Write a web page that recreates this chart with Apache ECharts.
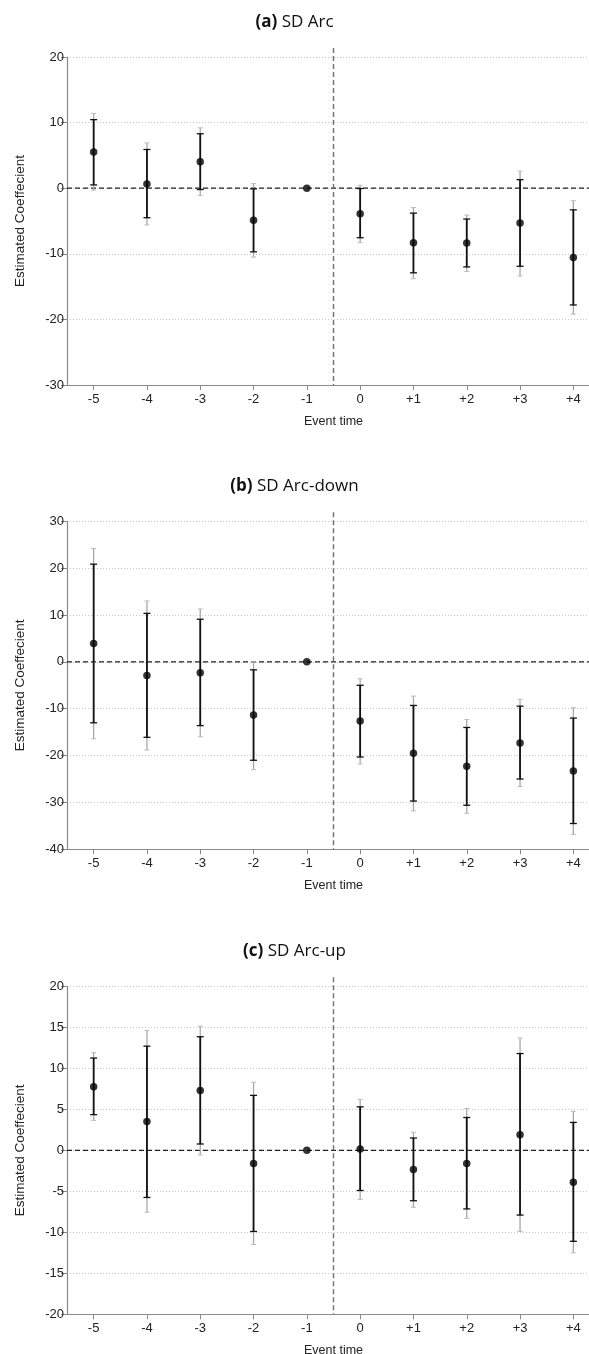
<!DOCTYPE html>
<html>
<head>
<meta charset="utf-8">
<script src="https://cdn.jsdelivr.net/npm/echarts@6/dist/echarts.min.js"></script>
<style>
html,body{margin:0;padding:0;background:#fff;}
#chart{width:589px;height:1354px;}
</style>
</head>
<body>
<div id="chart"></div>
<script>
// ---------- data ----------
const categories = ['-5','-4','-3','-2','-1','0','+1','+2','+3','+4'];

const aPoint   = [5.5, 0.65, 4.05, -4.9, 0, -3.9, -8.3, -8.35, -5.3, -10.55];
const aInnerHi = [10.45, 5.9, 8.3, -0.1, null, -0.05, -3.8, -4.7, 1.3, -3.3];
const aInnerLo = [0.5, -4.5, -0.2, -9.7, null, -7.55, -12.9, -12.0, -11.9, -17.8];
const aOuterHi = [11.4, 6.9, 9.2, 0.7, null, 0.45, -2.95, -4.1, 2.6, -1.9];
const aOuterLo = [-0.3, -5.6, -1.1, -10.5, null, -8.3, -13.8, -12.7, -13.4, -19.2];

const bPoint   = [3.9, -2.9, -2.3, -11.35, 0, -12.6, -19.5, -22.3, -17.3, -23.3];
const bInnerHi = [20.85, 10.35, 9.1, -1.7, null, -5.0, -9.3, -14.0, -9.45, -12.0];
const bInnerLo = [-13.0, -16.1, -13.6, -21.0, null, -20.3, -29.7, -30.6, -25.0, -34.5];
const bOuterHi = [24.2, 13.0, 11.3, 0, null, -3.6, -7.3, -12.3, -8.0, -9.8];
const bOuterLo = [-16.4, -18.8, -16.0, -23.0, null, -21.8, -31.8, -32.3, -26.6, -36.8];

const cPoint   = [7.75, 3.5, 7.3, -1.6, 0, 0.15, -2.35, -1.6, 1.9, -3.9];
const cInnerHi = [11.25, 12.7, 13.85, 6.7, null, 5.3, 1.5, 4.0, 11.8, 3.4];
const cInnerLo = [4.35, -5.75, 0.77, -9.9, null, -4.9, -6.15, -7.15, -7.9, -11.1];
const cOuterHi = [11.9, 14.6, 15.15, 8.3, null, 6.2, 2.2, 5.1, 13.7, 4.75];
const cOuterLo = [3.65, -7.55, -0.57, -11.5, null, -6.0, -6.95, -8.3, -9.9, -12.5];

const panelTitles = ['(a)', '(b)', '(c)'];
const panelNames = ['SD Arc', 'SD Arc-down', 'SD Arc-up'];
const yMins = [-30, -40, -20];
const yMaxs = [20, 30, 20];
const yIntervals = [10, 10, 5];
const breakPosition = -0.5; // between event time -1 and 0

// numeric event times derived from the category labels
const xPos = categories.map(c => parseInt(c, 10));
const xMin = -5.5;
const xMax = 4.29; // plot runs past the right edge of the figure

// ---------- layout ----------
const gridTops = [57, 521.3, 986.3];
const gridH = 328;
const titleTops = [9, 473, 938];

const panels = [
  {p: aPoint, ih: aInnerHi, il: aInnerLo, oh: aOuterHi, ol: aOuterLo},
  {p: bPoint, ih: bInnerHi, il: bInnerLo, oh: bOuterHi, ol: bOuterLo},
  {p: cPoint, ih: cInnerHi, il: cInnerLo, oh: cOuterHi, ol: cOuterLo}
];

const FONT = 'Liberation Sans, Arial, sans-serif';

function barRender(params, api) {
  const xv = api.value(0);
  const il = api.value(1), ih = api.value(2), ol = api.value(3), oh = api.value(4);
  const pOH = api.coord([xv, oh]), pOL = api.coord([xv, ol]);
  const pIH = api.coord([xv, ih]), pIL = api.coord([xv, il]);
  const x = pOH[0];
  const cap = 3.5, gcap = 2.5;
  const gray = {stroke: '#a8a8a8', lineWidth: 1.3};
  const blk = {stroke: '#111', lineWidth: 1.8};
  const blkCap = {stroke: '#111', lineWidth: 1.3};
  return {
    type: 'group',
    children: [
      {type: 'line', shape: {x1: x, y1: pOH[1], x2: x, y2: pOL[1]}, style: gray},
      {type: 'line', shape: {x1: x - gcap, y1: pOH[1], x2: x + gcap, y2: pOH[1]}, style: {stroke: '#bbb', lineWidth: 1}},
      {type: 'line', shape: {x1: x - gcap, y1: pOL[1], x2: x + gcap, y2: pOL[1]}, style: {stroke: '#bbb', lineWidth: 1}},
      {type: 'line', shape: {x1: x, y1: pIH[1], x2: x, y2: pIL[1]}, style: blk},
      {type: 'line', shape: {x1: x - cap, y1: pIH[1], x2: x + cap, y2: pIH[1]}, style: blkCap},
      {type: 'line', shape: {x1: x - cap, y1: pIL[1], x2: x + cap, y2: pIL[1]}, style: blkCap}
    ]
  };
}

function vlineRender(params, api) {
  const top = api.coord([api.value(0), api.value(2)]);
  const bot = api.coord([api.value(0), api.value(1)]);
  return {
    type: 'line',
    shape: {x1: top[0], y1: top[1] - 9, x2: bot[0], y2: bot[1]},
    style: {stroke: '#707070', lineWidth: 1.4, lineDash: [5, 3]}
  };
}

function zeroRender(params, api) {
  const a = api.coord([api.value(0), api.value(1)]);
  const cs = params.coordSys;
  return {
    type: 'line',
    shape: {x1: cs.x, y1: a[1], x2: cs.x + cs.width, y2: a[1]},
    style: {stroke: '#222', lineWidth: 1.2, lineDash: [5, 3]}
  };
}

const grid = [], xAxis = [], yAxis = [], series = [], title = [];
panels.forEach((pd, k) => {
  grid.push({left: 67, width: 533, top: gridTops[k], height: gridH, outerBoundsMode: 'none', containLabel: false});
  title.push({
    text: '{b|' + panelTitles[k] + '} ' + panelNames[k],
    left: 'center', top: titleTops[k],
    textStyle: {
      fontFamily: 'Open Sans, Noto Sans, sans-serif', fontSize: 17, fontWeight: 'normal', color: '#111',
      rich: {b: {fontFamily: 'Open Sans, Noto Sans, sans-serif', fontSize: 17, fontWeight: 'bold', color: '#111'}}
    }
  });
  xAxis.push({
    type: 'value', gridIndex: k, min: xMin, max: 4.5,
    name: 'Event time', nameLocation: 'middle', nameGap: 30,
    nameTextStyle: {fontFamily: FONT, fontSize: 12.5, color: '#222'},
    axisLine: {show: true, onZero: false, lineStyle: {color: '#8a8a8a', width: 1.2}},
    axisTick: {show: true, length: 5, customValues: xPos, lineStyle: {color: '#8a8a8a'}},
    axisLabel: {
      fontFamily: FONT, fontSize: 13, color: '#222', margin: 8, customValues: xPos,
      formatter: v => categories[xPos.indexOf(Math.round(v))]
    },
    splitLine: {show: false}
  });
  yAxis.push({
    type: 'value', gridIndex: k, min: yMins[k], max: yMaxs[k], interval: yIntervals[k],
    name: 'Estimated Coeffecient', nameLocation: 'middle', nameGap: 40, nameRotate: 90,
    nameTextStyle: {fontFamily: FONT, fontSize: 13.5, color: '#222'},
    axisLine: {show: true, onZero: false, lineStyle: {color: '#8a8a8a', width: 1.2}},
    axisTick: {show: true, length: 6, lineStyle: {color: '#8a8a8a'}},
    axisLabel: {fontFamily: FONT, fontSize: 13, color: '#222', margin: 3},
    splitLine: {show: true, lineStyle: {color: '#c8c8c8', width: 1, type: [1, 2]}}
  });
  const barData = [];
  pd.p.forEach((v, i) => {
    if (pd.ih[i] !== null) barData.push([xPos[i], pd.il[i], pd.ih[i], pd.ol[i], pd.oh[i]]);
  });
  series.push({
    type: 'custom', xAxisIndex: k, yAxisIndex: k, renderItem: zeroRender,
    data: [[0, 0]], silent: true, z: 2
  });
  series.push({
    type: 'custom', xAxisIndex: k, yAxisIndex: k, renderItem: vlineRender,
    data: [[breakPosition, yMins[k], yMaxs[k]]], silent: true, z: 2, clip: false
  });
  series.push({
    type: 'custom', xAxisIndex: k, yAxisIndex: k, renderItem: barRender,
    data: barData, silent: true, z: 3
  });
  series.push({
    type: 'scatter', xAxisIndex: k, yAxisIndex: k,
    data: pd.p.map((v, i) => [xPos[i], v]),
    symbol: 'circle', symbolSize: 7.5,
    itemStyle: {color: '#000'}, z: 4, silent: true
  });
});

const chart = echarts.init(document.getElementById('chart'), null, {renderer: 'canvas'});
chart.setOption({
  animation: false,
  backgroundColor: '#fff',
  title: title,
  grid: grid,
  xAxis: xAxis,
  yAxis: yAxis,
  series: series
});
</script>
</body>
</html>
